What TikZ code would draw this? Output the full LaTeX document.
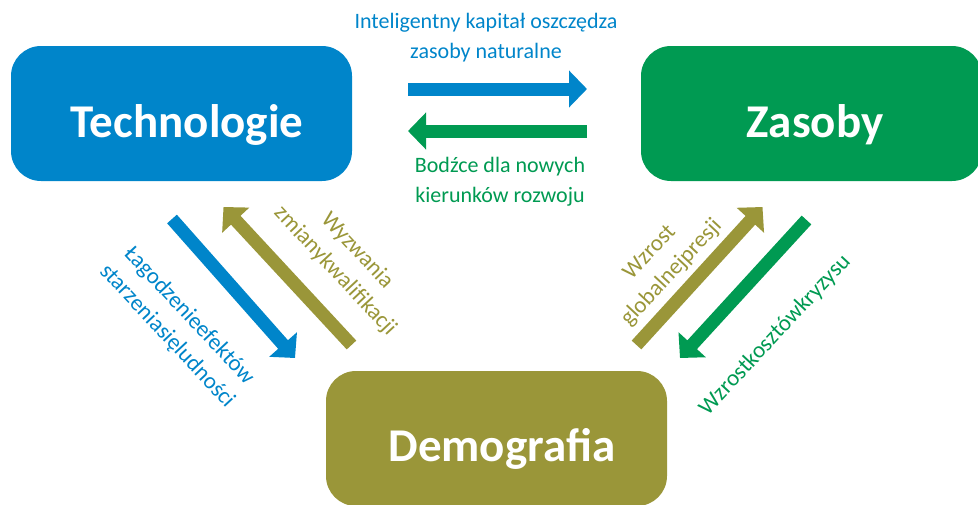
\documentclass[tikz,border=0pt]{standalone}
\usepackage{fontspec}
\setmainfont{Carlito}
\usetikzlibrary{arrows.meta}
\definecolor{cblue}{RGB}{0,133,202}
\definecolor{cgreen}{RGB}{0,154,82}
\definecolor{colive}{RGB}{154,150,57}
\tikzset{
  box/.style={rounded corners=30pt, minimum width=341pt, minimum height=135pt, inner sep=0pt},
  boxtext/.style={font=\fontsize{47}{52}\selectfont\bfseries, text=white, inner sep=0pt},
  lbl/.style={font=\fontsize{22}{30}\selectfont, align=center, inner sep=0pt},
  dlbl/.style={font=\fontsize{23}{30}\selectfont, align=center, inner sep=0pt},
  bigarrow/.style={line width=13pt, -{Triangle[width=36pt,length=18pt]}},
}
\begin{document}
\begin{tikzpicture}[x=1pt,y=-1pt]
\useasboundingbox (0,0) rectangle (978,504);
\clip (0,0) rectangle (978,504);
% boxes
\node[box, fill=cblue] (tech) at (181.5,113.5) {};
\node[box, fill=cgreen] (zas) at (811.5,113.5) {};
\node[box, fill=colive] (demo) at (496.5,438.5) {};
\node[boxtext, anchor=base] (techT) at (187,137) {Technologie};
\node[boxtext, anchor=base] (zasT) at (815,137) {Zasoby};
\node[boxtext, anchor=base] (demoT) at (502,461) {Demografia};
% horizontal arrows
\coordinate (h1a) at (408,89);
\coordinate (h1b) at (587,89);
\coordinate (h2a) at (587,131);
\coordinate (h2b) at (408,131);
\draw[bigarrow, cblue] (h1a) -- (h1b);
\draw[bigarrow, cgreen] (h2a) -- (h2b);
\node[lbl, text=cblue] (l1) at (486,38) {Inteligentny kapitał oszczędza\\zasoby naturalne};
\node[lbl, text=cgreen] (l2) at (500,182) {Bodźce dla nowych\\kierunków rozwoju};
% left diagonal arrows
\coordinate (d1a) at (172,219);
\coordinate (d1b) at (295,358);
\coordinate (d2a) at (351.5,345);
\coordinate (d2b) at (223.5,207);
\draw[bigarrow, cblue] (d1a) -- (d1b);
\draw[bigarrow, colive] (d2a) -- (d2b);
\node[dlbl, text=cblue, rotate=-47] (l3) at (178,326) {Łagodzenieefektów\\starzeniasięludności};
\node[dlbl, text=colive, rotate=-47] (l4) at (346,261) {Wyzwania\\zmianykwalifikacji};
% right diagonal arrows
\coordinate (d3a) at (636.5,345);
\coordinate (d3b) at (762.5,207);
\coordinate (d4a) at (806.5,220);
\coordinate (d4b) at (680,358);
\draw[bigarrow, colive] (d3a) -- (d3b);
\draw[bigarrow, cgreen] (d4a) -- (d4b);
\node[dlbl, text=colive, rotate=47] (l5) at (661,263) {Wzrost\\globalnejpresji};
\node[dlbl, text=cgreen, rotate=47] (l6) at (775,335) {Wzrostkosztówkryzysu};
\end{tikzpicture}
\end{document}
